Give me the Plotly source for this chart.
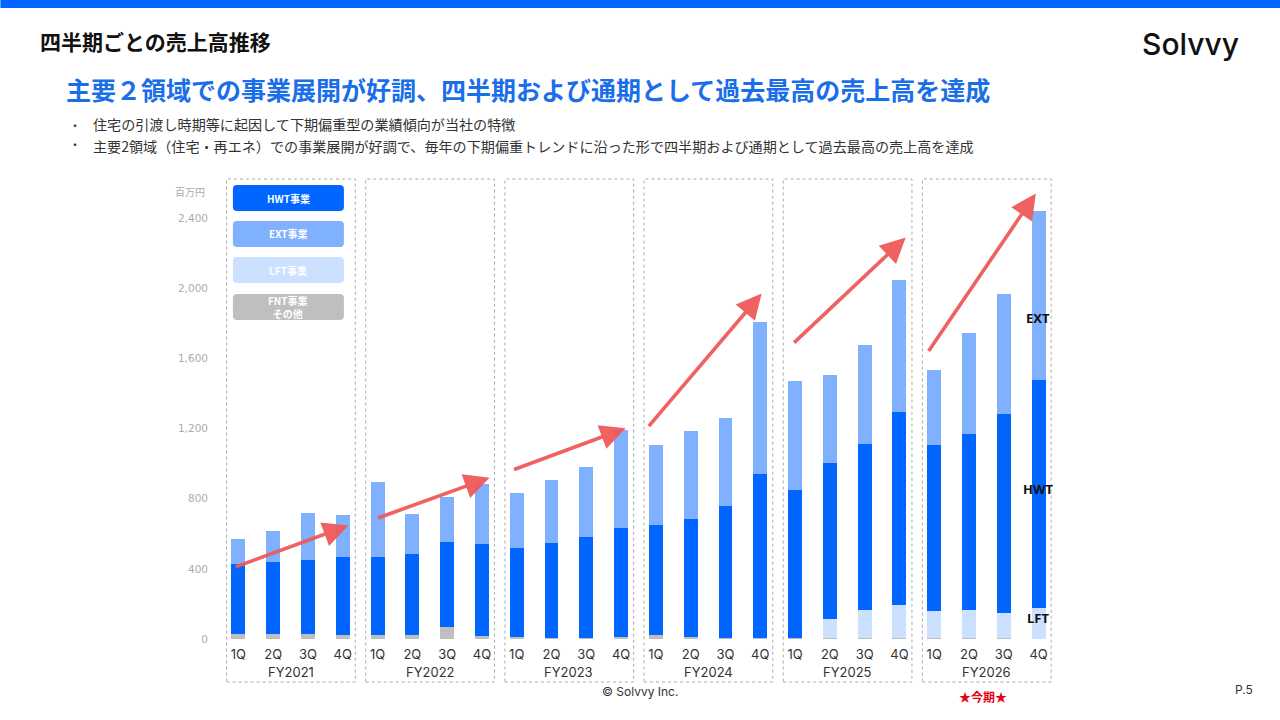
import plotly.graph_objects as go

W, H = 1280, 720
L, R, T, B = 220.6, 224.4, 183, 81

quarters = ["1Q", "2Q", "3Q", "4Q"]
years = ["FY2021", "FY2022", "FY2023", "FY2024", "FY2025", "FY2026"]

# 百万円
fnt = [31, 26, 27, 20, 20, 20, 66, 16, 10, 7, 3, 10,
       20, 12, 5, 8, 5, 3, 3, 3, 3, 3, 3, 0]
lft = [0, 0, 0, 0, 0, 0, 0, 0, 0, 0, 0, 0,
       0, 0, 0, 0, 0, 110, 160, 190, 154, 160, 143, 178]
hwt = [399, 414, 422, 445, 446, 462, 489, 527, 507, 539, 578, 625,
       631, 673, 751, 931, 844, 889, 950, 1099, 952, 1007, 1138, 1300]
ext = [143, 173, 268, 243, 432, 228, 253, 338, 316, 361, 397, 559,
       456, 499, 502, 869, 621, 504, 566, 754, 424, 572, 684, 960]

y_ticks = [0, 400, 800, 1200, 1600, 2000, 2400]

# trend arrows per fiscal year: (start x, start y, end x, end y) in data units
trend_arrows = [
    (-0.12, 408, 3.16, 647),
    (3.97, 687, 7.22, 920),
    (7.88, 963, 11.13, 1202),
    (11.76, 1205, 15.04, 1970),
    (15.93, 1682, 19.18, 2289),
    (19.81, 1633, 22.92, 2540),
]

series = [("FNT事業その他", fnt, "#BFBFBF"),
          ("LFT事業", lft, "#CCE0FF"),
          ("HWT事業", hwt, "#0066FF"),
          ("EXT事業", ext, "#80B1FF")]

legend_items = [("HWT事業", "#0066FF"), ("EXT事業", "#80B1FF"),
                ("LFT事業", "#CCE0FF"), ("FNT事業<br>その他", "#BFBFBF")]

bullets = ["住宅の引渡し時期等に起因して下期偏重型の業績傾向が当社の特徴",
           "主要2領域（住宅・再エネ）での事業展開が好調で、毎年の下期偏重トレンドに沿った形で四半期および通期として過去最高の売上高を達成"]

JP = "Noto Sans CJK JP"
LAT = "Inter, Noto Sans CJK JP"


def px(x):
    return (x - L) / (W - L - R)


def py(y):
    return (H - B - y) / (H - T - B)


def rrect(x0, y0, x1, y1, r=4):
    # rounded rect in pixel coords -> svg path in paper coords
    pts = [
        ("M", [(x0 + r, y0)]), ("L", [(x1 - r, y0)]), ("Q", [(x1, y0), (x1, y0 + r)]),
        ("L", [(x1, y1 - r)]), ("Q", [(x1, y1), (x1 - r, y1)]),
        ("L", [(x0 + r, y1)]), ("Q", [(x0, y1), (x0, y1 - r)]),
        ("L", [(x0, y0 + r)]), ("Q", [(x0, y0), (x0 + r, y0)]),
    ]
    s = ""
    for cmd, ps in pts:
        s += cmd + " ".join(f"{px(a):.5f},{py(b):.5f}" for a, b in ps) + " "
    return s + "Z"


xs = list(range(len(hwt)))
fig = go.Figure()
for name, vals, col in series:
    fig.add_trace(go.Bar(x=xs, y=vals, name=name, marker_color=col,
                         marker_line_width=0, width=0.4, showlegend=False))

shapes = []
annotations = []

# top band
shapes.append(dict(type="rect", xref="paper", yref="paper", x0=px(0), x1=px(W),
                   y0=py(8), y1=py(0), fillcolor="#0066FF", line_width=0, layer="above"))

# dotted year boxes
for i, yr in enumerate(years):
    shapes.append(dict(type="rect", xref="paper", yref="paper",
                       x0=(4 * i - 0.34 + 0.5) / 24, x1=(4 * i + 3.36 + 0.5) / 24,
                       y0=py(682), y1=py(179),
                       line=dict(color="#AAAAAA", width=1, dash="dot"), layer="below"))
    annotations.append(dict(x=4 * i + 1.5, y=py(672), xref="x", yref="paper", text=yr,
                            xanchor="center", yanchor="middle", showarrow=False,
                            font=dict(family=LAT, size=13, color="#333333")))

# legend boxes
ly = [(185, 211), (221, 247), (257, 283), (294, 320)]
for (label, col), (y0, y1) in zip(legend_items, ly):
    shapes.append(dict(type="path", xref="paper", yref="paper", path=rrect(232.5, y0, 343.5, y1),
                       fillcolor=col, line_width=0))
    annotations.append(dict(x=px(288), y=py((y0 + y1) / 2), xref="paper", yref="paper",
                            text=label, showarrow=False, xanchor="center", yanchor="middle",
                            font=dict(family=JP, size=10, color="white", weight="bold")))

for x0, y0, x1, y1 in trend_arrows:
    annotations.append(dict(x=x1, y=y1, ax=x0, ay=y0, xref="x", yref="y", axref="x", ayref="y",
                            showarrow=True, arrowhead=2, arrowsize=1.4, arrowwidth=3.6,
                            arrowcolor="#F05A5A", opacity=0.95, text=""))

# series labels on the last bar
for txt, yy in [("EXT", 318), ("HWT", 489), ("LFT", 618)]:
    annotations.append(dict(x=px(1038), y=py(yy), xref="paper", yref="paper", text=txt,
                            showarrow=False, xanchor="center", yanchor="middle",
                            font=dict(family="Noto Sans", size=13, color="#111111", weight="bold")))

# bullet lines: first sits above y=135, second below it
for text, anchor in zip(bullets, ["bottom", "top"]):
    annotations.append(dict(x=px(68), y=py(135), xref="paper", yref="paper", text="・",
                            showarrow=False, xanchor="left", yanchor=anchor, borderpad=0,
                            font=dict(family=JP, size=12, color="#333333")))
    annotations.append(dict(x=px(92), y=py(135), xref="paper", yref="paper", text=text,
                            showarrow=False, xanchor="left", yanchor=anchor, borderpad=0,
                            font=dict(family=JP, size=14.1, color="#333333")))

texts = [
    (38, 41, "四半期ごとの売上高推移", dict(family=JP, size=21, color="#111111", weight="bold"), "left"),
    (64, 89, "主要２領域での事業展開が好調、四半期および通期として過去最高の売上高を達成",
     dict(family=JP, size=25, color="#1A6EE8", weight="bold"), "left"),
    (1241, 44, "Solvvy", dict(family="Inter", size=30, color="#111111", weight=500), "right"),
    (207, 191, "百万円", dict(family=JP, size=10, color="#ABABAB"), "right"),
    (640, 691, "© Solvvy Inc.", dict(family=LAT, size=12, color="#333333"), "center"),
    (1255, 689, "P.5", dict(family=LAT, size=12, color="#333333"), "right"),
    (983, 696, "★今期★", dict(family=JP, size=12, color="#E60012", weight="bold"), "center"),
]
for x, y, t, f, anc in texts:
    annotations.append(dict(x=px(x), y=py(y), xref="paper", yref="paper", text=t, showarrow=False,
                            xanchor=anc, yanchor="middle", font=f))

fig.update_layout(
    width=W, height=H, barmode="stack", bargap=0,
    margin=dict(l=L, r=R, t=T, b=B, pad=0),
    paper_bgcolor="white", plot_bgcolor="white",
    shapes=shapes, annotations=annotations,
    xaxis=dict(range=[-0.5, 23.5], tickvals=xs, ticktext=quarters * len(years),
               tickfont=dict(family=LAT, size=13, color="#333333"),
               showgrid=False, zeroline=False, showline=False, ticks="", ticklabelstandoff=6,
               fixedrange=True),
    yaxis=dict(range=[0, 2600], tickvals=y_ticks, tickformat=",",
               tickfont=dict(family="DejaVu Sans", size=10.5, color="#ABABAB"),
               showgrid=False, zeroline=False, showline=False, ticks="", ticklabelstandoff=12,
               fixedrange=True),
    hovermode="x",
)

fig.write_html("out.html", config={"displayModeBar": False},
               post_script="document.body.style.margin='0';")
